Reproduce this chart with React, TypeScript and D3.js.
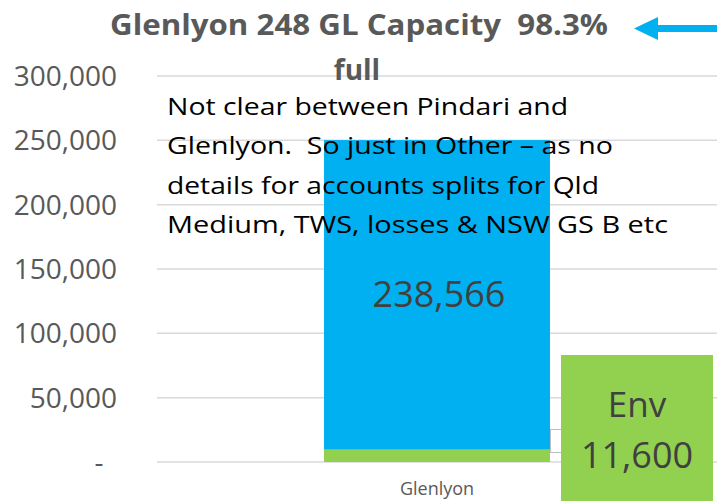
import React from "react";
import * as d3 from "d3";

const categories = ["Glenlyon"];
const envValues = [9600];
const otherValues = [240600];
const otherLabels = ["238,566"];
const envLabelLines = ["Env", "11,600"];
const yTicks = [0, 50000, 100000, 150000, 200000, 250000, 300000];
const titleLines = ["Glenlyon 248 GL Capacity  98.3%", "full"];
const noteLines = [
  "Not clear between Pindari and",
  "Glenlyon.  So just in Other \u2013 as no",
  "details for accounts splits for Qld",
  "Medium, TWS, losses & NSW GS B etc",
];
const noteWidths = [401, 446, 432, 501];

const W = 717;
const H = 501;
const FONT = "'Open Sans', 'Noto Sans', sans-serif";

export default function App() {
  const y = d3.scaleLinear().domain([0, 300000]).range([462, 76]);
  const x = d3.scaleBand().domain(categories).range([157, 717]).padding(0.425);
  const fmt = d3.format(",");
  const stack = categories.map((c, i) => ({
    c,
    env: envValues[i],
    other: otherValues[i],
  }));
  const pre = { whiteSpace: "pre" as const };

  return (
    <svg
      width={W}
      height={H}
      style={{ position: "absolute", left: 0, top: 0, display: "block", background: "#fff" }}
    >
      {yTicks.map((t) => (
        <line key={t} x1={157} x2={717} y1={y(t)} y2={y(t)} stroke="#d9d9d9" strokeWidth={1.5} />
      ))}
      {yTicks.map((t) =>
        t === 0 ? (
          <text key={t} x={99} y={y(t) + 10} textAnchor="middle" fontFamily={FONT} fontSize={28} fill="#595959">
            -
          </text>
        ) : (
          <text key={t} x={117} y={y(t) + 10} textAnchor="end" fontFamily={FONT} fontSize={28} fill="#595959">
            {fmt(t)}
          </text>
        )
      )}
      {stack.map((d) => (
        <g key={d.c}>
          <rect x={x(d.c)} y={y(d.env)} width={x.bandwidth()} height={y(0) - y(d.env)} fill="#92D050" />
          <rect
            x={x(d.c)}
            y={y(d.env + d.other)}
            width={x.bandwidth()}
            height={y(d.env) - y(d.env + d.other)}
            fill="#00B0F0"
          />
        </g>
      ))}
      <rect x={550.5} y={429.5} width={20} height={23} fill="#fff" stroke="#bfbfbf" strokeWidth={1} />
      {categories.map((c) => (
        <text key={c} x={(x(c) as number) + x.bandwidth() / 2} y={495} textAnchor="middle" fontFamily={FONT} fontSize={18} fill="#595959">
          {c}
        </text>
      ))}
      {categories.map((c, i) => (
        <text key={c} x={(x(c) as number) + x.bandwidth() / 2 + 2} y={307} textAnchor="middle" fontFamily={FONT} fontSize={36} fill="#404040">
          {otherLabels[i]}
        </text>
      ))}
      <rect x={561} y={355} width={152} height={146} fill="#92D050" />
      <text x={637} y={417} textAnchor="middle" fontFamily={FONT} fontSize={35} fill="#404040">
        {envLabelLines[0]}
      </text>
      <text x={637} y={468} textAnchor="middle" fontFamily={FONT} fontSize={36} fill="#404040">
        {envLabelLines[1]}
      </text>
      {noteLines.map((l, i) => (
        <text
          key={i}
          x={167}
          y={115 + i * 39.3}
          fontFamily={FONT}
          fontSize={24}
          fill="#000"
          textLength={noteWidths[i]}
          lengthAdjust="spacingAndGlyphs"
          style={pre}
        >
          {l}
        </text>
      ))}
      <text x={359} y={35} textAnchor="middle" fontFamily={FONT} fontWeight="bold" fontSize={28} fill="#595959" textLength={498} lengthAdjust="spacingAndGlyphs" style={pre}>
        {titleLines[0]}
      </text>
      <text x={357} y={80} textAnchor="middle" fontFamily={FONT} fontWeight="bold" fontSize={28} fill="#595959">
        {titleLines[1]}
      </text>
      <rect x={656} y={25} width={61} height={7} fill="#00B0F0" />
      <polygon points="634,28.5 658,17 658,40" fill="#00B0F0" />
    </svg>
  );
}
